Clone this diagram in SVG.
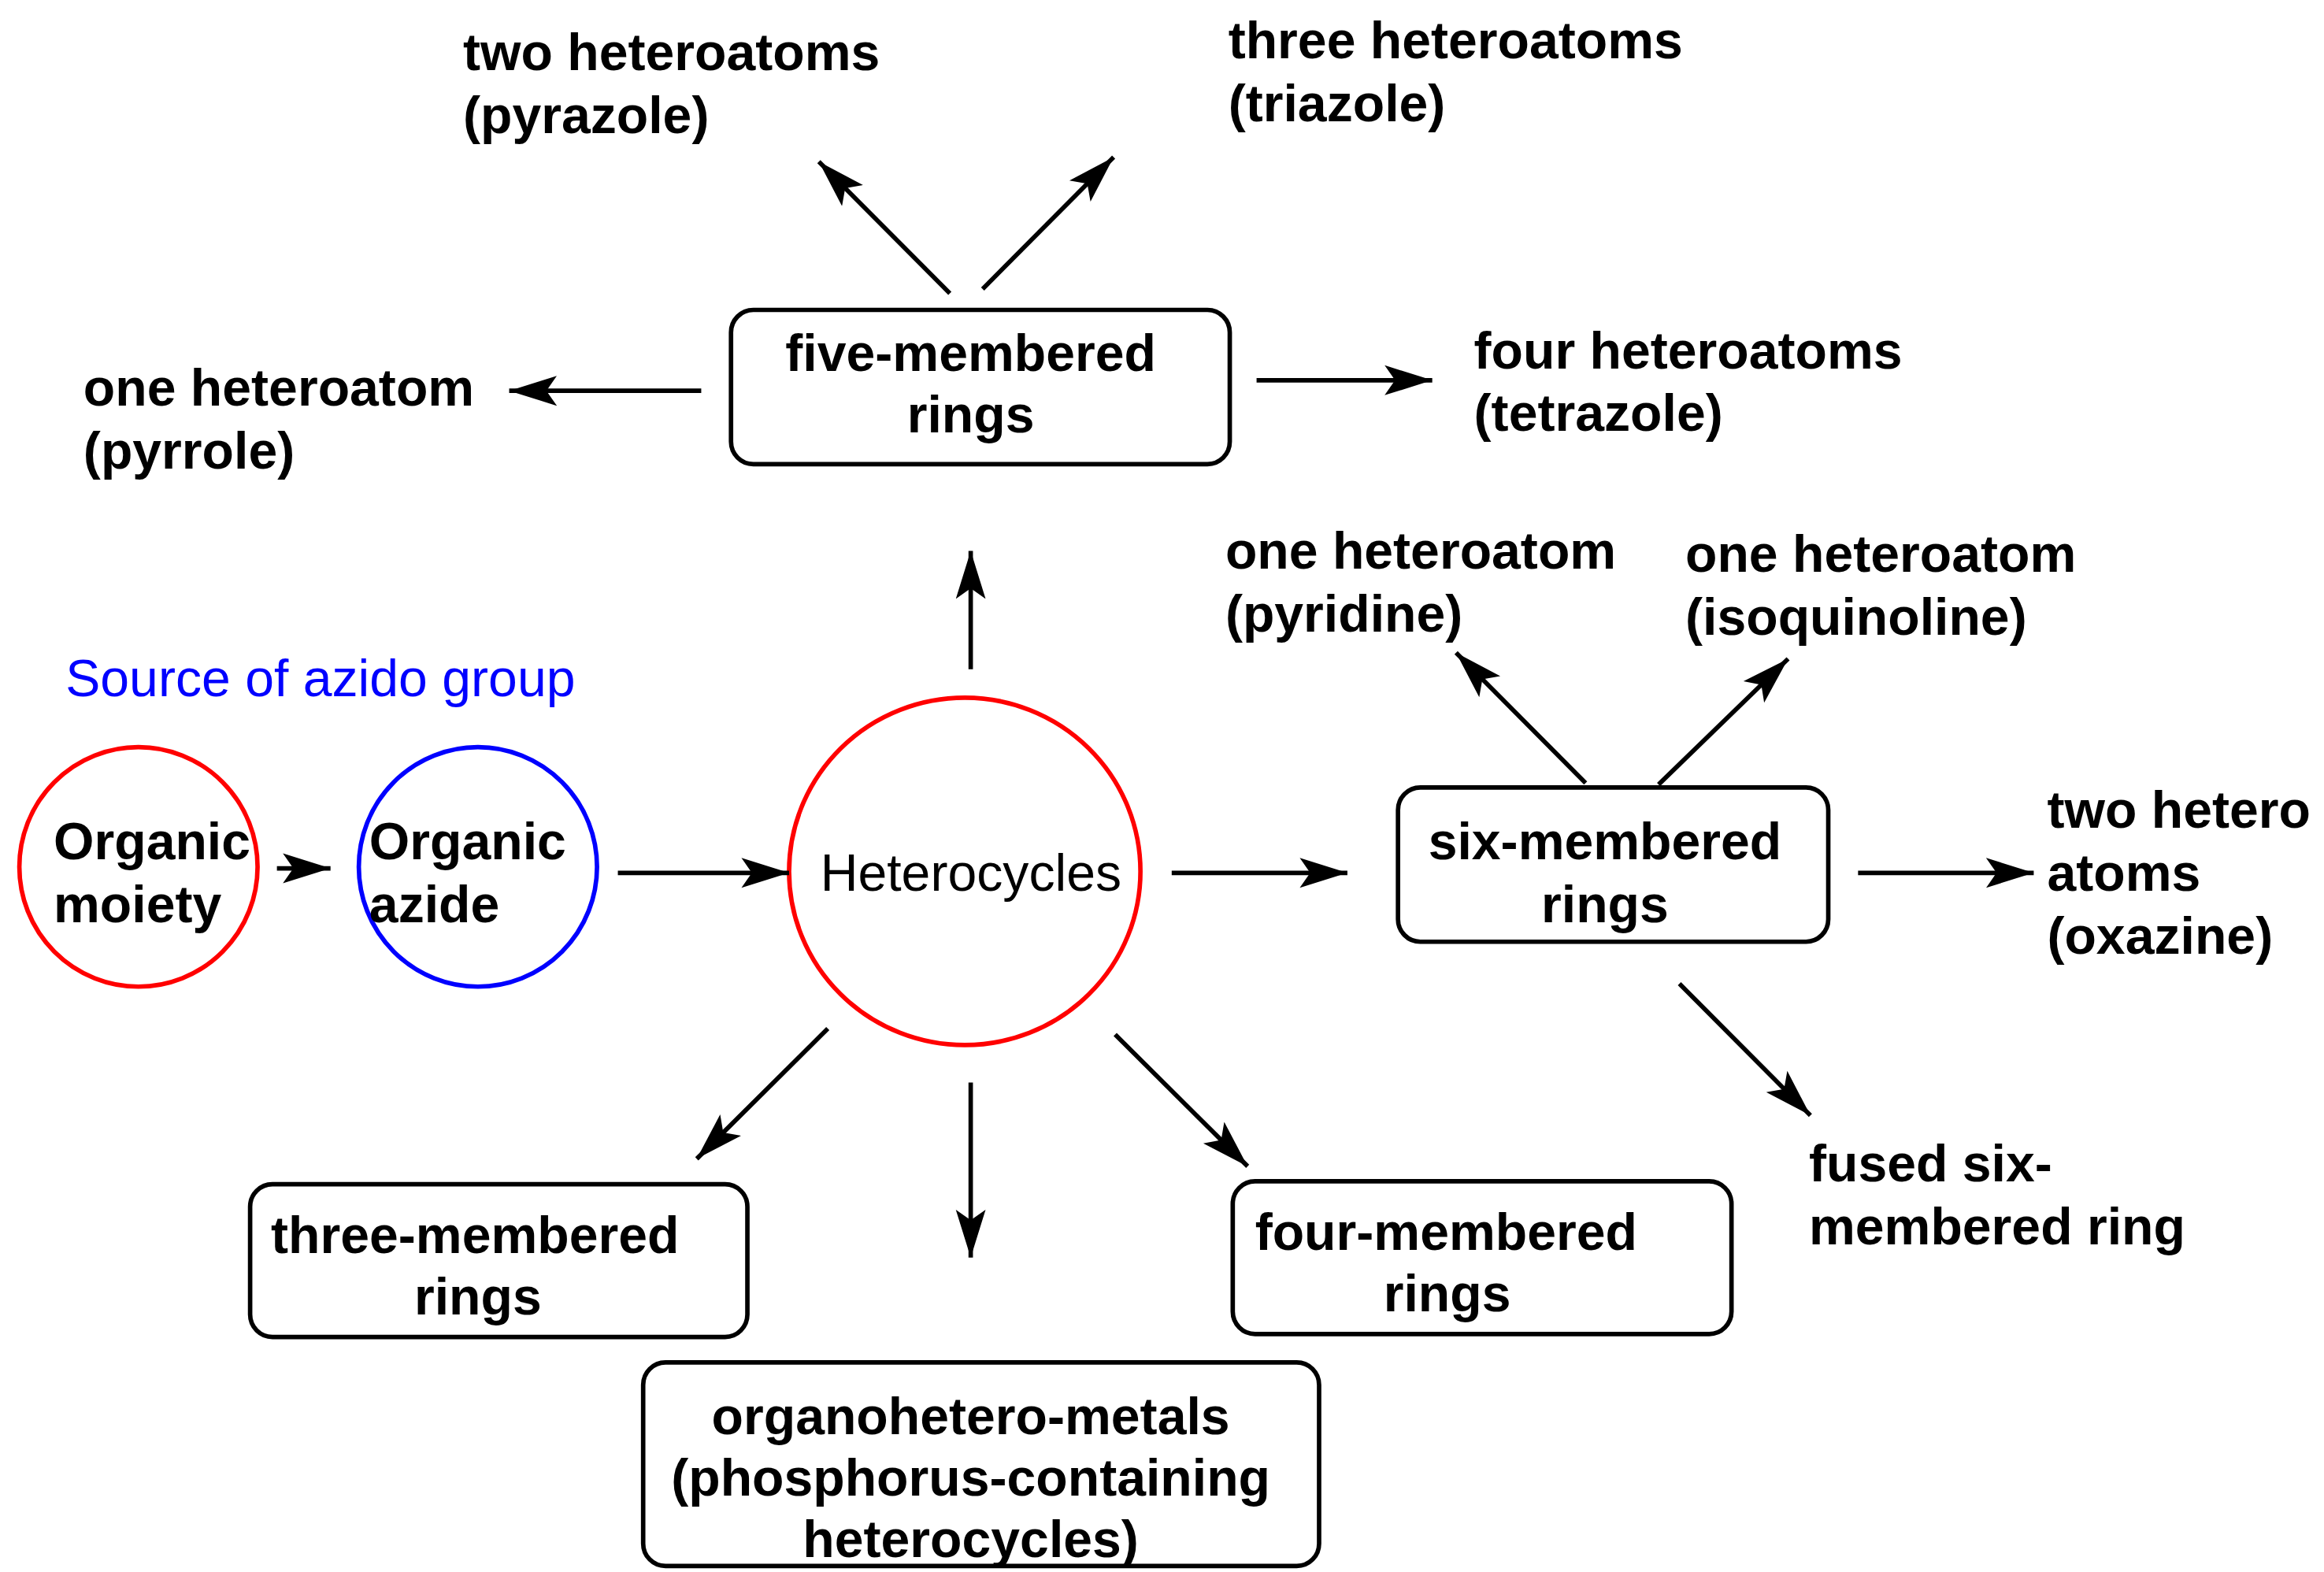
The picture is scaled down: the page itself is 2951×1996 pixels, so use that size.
<svg xmlns="http://www.w3.org/2000/svg" width="2951" height="1996" viewBox="0 0 2951 1996">
<style>
.b{font-family:"Liberation Sans",Arial,sans-serif;font-weight:bold;font-size:35px;fill:#000}
.n{font-family:"Liberation Sans",Arial,sans-serif;font-size:35px}
.box{fill:none;stroke:#000;stroke-width:3}
.c path,.c line{stroke:#000;stroke-width:3;fill:none}
</style>
<defs>
<marker id="a" markerUnits="userSpaceOnUse" markerWidth="34" markerHeight="24" refX="32" refY="12" orient="auto">
<path d="M0,2 L32,12 L0,22 L7,12 Z" fill="#000"/>
</marker>
</defs>
<rect width="2951" height="1996" fill="#fff"/>
<g transform="scale(1.8905,1.901)">
<text class="n" x="44" y="465" fill="#0000ff">Source of azido group</text>
<g id="moiety"><circle cx="93" cy="579" r="80" fill="none" stroke="#f00" stroke-width="3"/><text class="b" x="36" y="574">Organic</text><text class="b" x="36" y="616">moiety</text></g>
<g id="azide"><circle cx="321" cy="579" r="80" fill="none" stroke="#00f" stroke-width="3"/><text class="b" x="248" y="574">Organic</text><text class="b" x="248" y="616">azide</text></g>
<g id="hetero"><ellipse cx="648" cy="582" rx="118" ry="116" fill="none" stroke="#f00" stroke-width="3"/><text class="n" x="551" y="595">Heterocycles</text></g>
<g id="five"><rect class="box" x="491" y="207" width="335" height="103" rx="15"/><text class="b" x="652" y="248" text-anchor="middle">five-membered</text><text class="b" x="652" y="289" text-anchor="middle">rings</text></g>
<g id="six"><rect class="box" x="939" y="526" width="289" height="103" rx="15"/><text class="b" x="1078" y="574" text-anchor="middle">six-membered</text><text class="b" x="1078" y="616" text-anchor="middle">rings</text></g>
<g id="three"><rect class="box" x="168" y="791" width="334" height="102" rx="15"/><text class="b" x="182" y="837">three-membered</text><text class="b" x="321" y="878" text-anchor="middle">rings</text></g>
<g id="four"><rect class="box" x="828" y="789" width="335" height="102" rx="15"/><text class="b" x="843" y="835">four-membered</text><text class="b" x="972" y="876" text-anchor="middle">rings</text></g>
<g id="organo"><rect class="box" x="432" y="910" width="454" height="136" rx="15"/><text class="b" x="652" y="958" text-anchor="middle">organohetero-metals</text><text class="b" x="652" y="999" text-anchor="middle">(phosphorus-containing</text><text class="b" x="652" y="1040" text-anchor="middle">heterocycles)</text></g>
<g id="pyrazole"><text class="b" x="311" y="47">two heteroatoms</text><text class="b" x="311" y="89">(pyrazole)</text></g>
<g id="triazole"><text class="b" x="825" y="39">three heteroatoms</text><text class="b" x="825" y="81">(triazole)</text></g>
<g id="pyrrole"><text class="b" x="56" y="271">one heteroatom</text><text class="b" x="56" y="313">(pyrrole)</text></g>
<g id="tetrazole"><text class="b" x="990" y="246">four heteroatoms</text><text class="b" x="990" y="288">(tetrazole)</text></g>
<g id="pyridine"><text class="b" x="823" y="380">one heteroatom</text><text class="b" x="823" y="422">(pyridine)</text></g>
<g id="isoquinoline"><text class="b" x="1132" y="382">one heteroatom</text><text class="b" x="1132" y="424">(isoquinoline)</text></g>
<g id="oxazine"><text class="b" x="1375" y="553">two hetero</text><text class="b" x="1375" y="595">atoms</text><text class="b" x="1375" y="637">(oxazine)</text></g>
<g id="fused"><text class="b" x="1215" y="789">fused six-</text><text class="b" x="1215" y="831">membered ring</text></g>
<g class="c" id="connectors" marker-end="url(#a)">
<line x1="186" y1="580" x2="222" y2="580" marker-end="url(#a)"/>
<line x1="415" y1="583" x2="530" y2="583" marker-end="url(#a)"/>
<line x1="787" y1="583" x2="905" y2="583" marker-end="url(#a)"/>
<line x1="652" y1="447" x2="652" y2="368" marker-end="url(#a)"/>
<line x1="471" y1="261" x2="342" y2="261" marker-end="url(#a)"/>
<line x1="844" y1="254" x2="962" y2="254" marker-end="url(#a)"/>
<line x1="638" y1="196" x2="550" y2="108" marker-end="url(#a)"/>
<line x1="660" y1="193" x2="748" y2="105" marker-end="url(#a)"/>
<line x1="1065" y1="523" x2="978" y2="436" marker-end="url(#a)"/>
<line x1="1114" y1="524" x2="1201" y2="440" marker-end="url(#a)"/>
<line x1="1248" y1="583" x2="1366" y2="583" marker-end="url(#a)"/>
<line x1="1128" y1="657" x2="1216" y2="745" marker-end="url(#a)"/>
<line x1="556" y1="687" x2="468" y2="774" marker-end="url(#a)"/>
<line x1="652" y1="723" x2="652" y2="840" marker-end="url(#a)"/>
<line x1="749" y1="691" x2="838" y2="779" marker-end="url(#a)"/>
</g>
</g>
</svg>
